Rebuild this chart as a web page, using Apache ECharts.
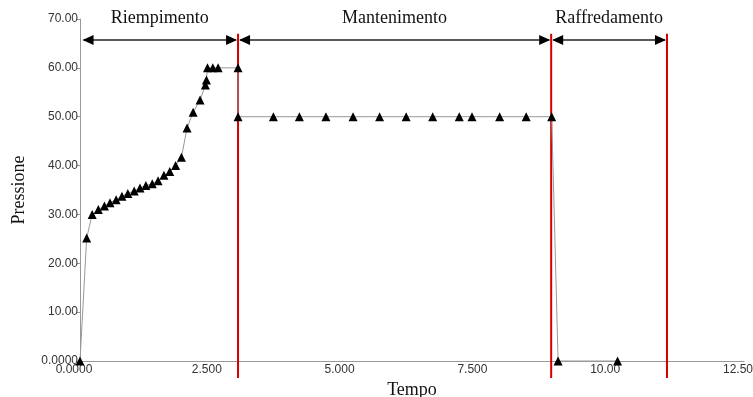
<!DOCTYPE html>
<html>
<head>
<meta charset="utf-8">
<script src="https://cdn.jsdelivr.net/npm/echarts@6/dist/echarts.min.js"></script>
<style>
  html, body { margin: 0; padding: 0; background: #fff; }
  #chart { width: 753px; height: 397px; }
</style>
</head>
<body>
<div id="chart"></div>
<script>
// dati
const tempo = [0, 0.126, 0.23, 0.345, 0.46, 0.565, 0.68, 0.79, 0.9, 1.02, 1.13, 1.24, 1.36, 1.47,
    1.58, 1.69, 1.8, 1.91, 2.015, 2.13, 2.26, 2.36, 2.38, 2.40, 2.50, 2.60, 2.975,
    2.975, 3.64, 4.13, 4.63, 5.14, 5.64, 6.14, 6.64, 7.14, 7.38, 7.90, 8.40, 8.88,
    9.0, 10.12];
const pressione = [0, 25.2, 30, 31, 31.7, 32.4, 33, 33.7, 34.3, 34.8, 35.4, 35.9, 36.3, 36.9,
    38, 38.8, 40, 41.7, 47.7, 50.9, 53.4, 56.5, 57.5, 60, 60, 60, 60,
    50, 50, 50, 50, 50, 50, 50, 50, 50, 50, 50, 50, 50,
    0, 0];

const fasi = ['Riempimento', 'Mantenimento', 'Raffredamento'];
const inizioFasi = [0.03, 2.975, 8.87];
const fineFasi = [2.975, 8.87, 11.05];
const limitiFasi = [2.975, 8.87, 11.05];

const xTicks = [0, 2.5, 5, 7.5, 10, 12.5];
const xTickLabels = ['0.0000', '2.500', '5.000', '7.500', '10.00', '12.50'];
const yTicks = [0, 10, 20, 30, 40, 50, 60, 70];
const yTickLabels = ['0.0000', '10.00', '20.00', '30.00', '40.00', '50.00', '60.00', '70.00'];

const chart = echarts.init(document.getElementById('chart'));

const serif = '"Liberation Serif", "Times New Roman", serif';
const sans = '"Liberation Sans", Arial, sans-serif';

const option = {
    animation: false,
    grid: { left: 80, right: 9, top: 19, bottom: 36, outerBoundsMode: 'none', containLabel: false },
    xAxis: {
        type: 'value',
        min: 0,
        max: 12.5,
        interval: 2.5,
        name: 'Tempo',
        nameLocation: 'middle',
        nameGap: 17,
        nameTextStyle: { fontFamily: serif, fontSize: 18, color: '#111' },
        axisLine: { lineStyle: { color: '#999' } },
        axisTick: { show: false },
        splitLine: { show: false },
        axisLabel: {
            fontFamily: sans, fontSize: 12, color: '#333', margin: 3,
            padding: [0, 12, 0, 0],   // etichette leggermente a sinistra come nell'originale
            formatter: v => xTickLabels[xTicks.indexOf(v)]
        }
    },
    yAxis: {
        type: 'value',
        min: 0,
        max: 70,
        interval: 10,
        name: 'Pressione',
        nameLocation: 'middle',
        nameGap: 52,
        nameTextStyle: { fontFamily: serif, fontSize: 18, color: '#111' },
        axisLine: { show: true, lineStyle: { color: '#999' } },
        axisTick: { show: true, length: 3, lineStyle: { color: '#999' } },
        splitLine: { show: false },
        axisLabel: {
            fontFamily: sans, fontSize: 12, color: '#333', margin: 2,
            formatter: v => yTickLabels[yTicks.indexOf(v)]
        }
    },
    series: [
        {
            // frecce e nomi delle fasi
            type: 'custom',
            clip: false,
            z: 1,
            data: fasi.map((f, i) => [inizioFasi[i], fineFasi[i]]),
            encode: { x: [0, 1] },
            renderItem: (params, api) => {
                const a = api.coord([api.value(0), 65.7]);
                const b = api.coord([api.value(1), 65.7]);
                const mid = api.coord([(api.value(0) + api.value(1)) / 2, 70]);
                const L = 11, H = 5;
                return {
                    type: 'group',
                    children: [
                        { type: 'line', shape: { x1: a[0] + 2, y1: a[1], x2: b[0] - 2, y2: b[1] },
                          style: { stroke: '#222', lineWidth: 1.5 } },
                        { type: 'polygon', shape: { points: [[a[0] + 1, a[1]], [a[0] + 1 + L, a[1] - H], [a[0] + 1 + L, a[1] + H]] },
                          style: { fill: '#000' } },
                        { type: 'polygon', shape: { points: [[b[0] - 1, b[1]], [b[0] - 1 - L, b[1] - H], [b[0] - 1 - L, b[1] + H]] },
                          style: { fill: '#000' } },
                        { type: 'text', x: mid[0], y: mid[1] - 1,
                          style: { text: fasi[params.dataIndex], font: '18px ' + serif, fill: '#111',
                                   align: 'center', verticalAlign: 'middle' } }
                    ]
                };
            }
        },
        {
            // linee rosse di separazione
            type: 'custom',
            clip: false,
            z: 2,
            data: limitiFasi.map(t => [t, 0]),
            encode: { x: 0, y: 1 },
            renderItem: (params, api) => {
                const top = api.coord([api.value(0), 67]);
                const bot = api.coord([api.value(0), -3.5]);
                return {
                    type: 'line',
                    shape: { x1: top[0], y1: top[1], x2: bot[0], y2: bot[1] },
                    style: { stroke: '#d40000', lineWidth: 2 }
                };
            }
        },
        {
            type: 'line',
            z: 3,
            data: tempo.map((t, i) => [t, pressione[i]]),
            symbol: 'triangle',
            symbolSize: 9,
            showAllSymbol: true,
            itemStyle: { color: '#000' },
            lineStyle: { color: '#999', width: 1 }
        }
    ]
};

chart.setOption(option);
window.addEventListener('resize', () => chart.resize());
</script>
</body>
</html>
